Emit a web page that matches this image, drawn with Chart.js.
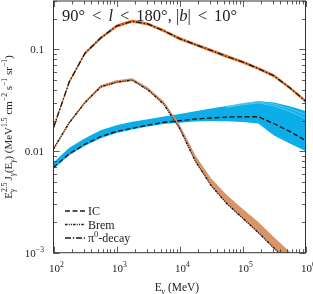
<!DOCTYPE html>
<html>
<head>
<meta charset="utf-8">
<script src="https://cdn.jsdelivr.net/npm/chart.js@4.4.1/dist/chart.umd.min.js"></script>
<style>
  html, body { margin: 0; padding: 0; background: #fff; }
  #wrap { width: 313px; height: 294px; }
</style>
</head>
<body>
<div id="wrap"><canvas id="gammaChart" width="313" height="294"></canvas></div>
<script>
// energy grid (MeV) and the curves
const energies = [100, 178, 316, 562, 1000, 1780, 3160, 5620, 1e4, 1.78e4, 3.16e4, 5.62e4, 1e5, 1.78e5, 3.16e5, 5.62e5, 1e6];

const pi0   = [0.0170, 0.0480, 0.0920, 0.1300, 0.1700, 0.1900, 0.1780, 0.1530, 0.1280, 0.1120, 0.0980, 0.0855, 0.0755, 0.0650, 0.0550, 0.0420, 0.0310];
const pi0Hi = [0.0177, 0.0497, 0.0952, 0.1345, 0.1760, 0.1970, 0.1840, 0.1580, 0.1325, 0.1160, 0.1015, 0.0885, 0.0780, 0.0673, 0.0570, 0.0435, 0.0321];
const pi0Lo = [0.0164, 0.0463, 0.0888, 0.1255, 0.1640, 0.1830, 0.1720, 0.1480, 0.1235, 0.1080, 0.0945, 0.0825, 0.0729, 0.0627, 0.0531, 0.0405, 0.0299];

const brem   = [0.0105, 0.0190, 0.0300, 0.0428, 0.0477, 0.0500, 0.0400, 0.0290, 0.0168, 0.0080, 0.0046, 0.00305, 0.00220, 0.00158, 0.00111, 0.00079, 0.00055];
const bremHi = [0.0109, 0.0197, 0.0312, 0.0447, 0.0497, 0.0522, 0.0422, 0.0310, 0.0184, 0.0091, 0.0054, 0.00370, 0.00270, 0.00200, 0.00142, 0.00102, 0.00072];
const bremLo = [0.0102, 0.0185, 0.0292, 0.0418, 0.0466, 0.0489, 0.0392, 0.0284, 0.0164, 0.0078, 0.0045, 0.00300, 0.00216, 0.00155, 0.00109, 0.00078, 0.00054];

const ic   = [0.0069, 0.0094, 0.0117, 0.0139, 0.0156, 0.0168, 0.0180, 0.0192, 0.0199, 0.0207, 0.0212, 0.0216, 0.0218, 0.0218, 0.0186, 0.0156, 0.0127];
const icHi = [0.0077, 0.0108, 0.0134, 0.0160, 0.0180, 0.0194, 0.0206, 0.0219, 0.0232, 0.0247, 0.0262, 0.0278, 0.0295, 0.0312, 0.0300, 0.0276, 0.0248];
const icLo = [0.0067, 0.0091, 0.0113, 0.0134, 0.0151, 0.0163, 0.0175, 0.0185, 0.0190, 0.0195, 0.0198, 0.0197, 0.0193, 0.0187, 0.0142, 0.0119, 0.0100];
// two of the lighter model lines visible inside the upper IC band
const icStripeA = [null, null, null, null, null, null, null, null, null, null, null, 0.0275, 0.0292, 0.0306, 0.0290, 0.0262, 0.0228];
const icStripeB = [null, null, null, null, null, null, null, null, null, null, null, 0.0270, 0.0285, 0.0298, 0.0278, 0.0247, 0.0210];

// tick labels: [value, base, exponent]
const xTickLabels = [[1e2, '10', '2'], [1e3, '10', '3'], [1e4, '10', '4'], [1e5, '10', '5'], [1e6, '10', '6']];
const yTickLabels = [[1e-3, '10', '−3'], [1e-2, '0.01', ''], [1e-1, '0.1', '']];

const legendItems = [
    { label: [{ t: 'IC' }], dash: [5, 2.5] },
    { label: [{ t: 'Brem' }], dash: [2.5, 1.2, 1, 1.2, 1, 1.2] },
    { label: [{ t: 'π' }, { t: '0', sup: 1 }, { t: '-decay' }], dash: [6, 1.8, 1.4, 1.8] }
];

const SERIF = '"Liberation Serif", "DejaVu Serif", serif';
const INK = '#222';

function pts(arr) {
    return energies.map((e, i) => ({ x: e, y: arr[i] }));
}

function setFont(ctx, size, italic) {
    ctx.font = (italic ? 'italic ' : '') + size + 'px ' + SERIF;
}

// a run: { t, it, sup } or { hi, lo } stacked scripts, or { gap } in px
function runW(ctx, r, size) {
    if (r.gap) return r.gap;
    let w = 0;
    if (r.t) {
        setFont(ctx, r.sup ? size * 0.7 : size, r.it);
        w = ctx.measureText(r.t).width;
    }
    if (r.hi) { setFont(ctx, size * 0.7, false); w = Math.max(w, ctx.measureText(r.hi).width); }
    if (r.lo) { setFont(ctx, size * 0.7, true); w = Math.max(w, ctx.measureText(r.lo).width); }
    return w;
}

function drawRuns(ctx, runs, x, y, size, align) {
    const total = runs.reduce((s, r) => s + runW(ctx, r, size), 0);
    let cx = x;
    if (align === 'center') cx = x - total / 2;
    if (align === 'right') cx = x - total;
    ctx.textAlign = 'left';
    ctx.textBaseline = 'alphabetic';
    runs.forEach(r => {
        const w = runW(ctx, r, size);
        if (r.t) {
            setFont(ctx, r.sup ? size * 0.7 : size, r.it);
            ctx.fillText(r.t, cx, r.sup ? y - 0.42 * size : y);
        }
        if (r.hi) { setFont(ctx, size * 0.7, false); ctx.fillText(r.hi, cx, y - 0.42 * size); }
        if (r.lo) { setFont(ctx, size * 0.7, true); ctx.fillText(r.lo, cx, y + 0.28 * size); }
        cx += w;
    });
}

const frameTicks = {
    id: 'frameTicks',
    afterDraw(chart) {
        const ctx = chart.ctx;
        const a = chart.chartArea;
        const xs = chart.scales.x, ys = chart.scales.y;
        ctx.save();
        ctx.strokeStyle = '#333';
        ctx.lineWidth = 0.8;
        ctx.beginPath();
        // x ticks, top and bottom, pointing inward
        for (let d = 2; d <= 6; d++) {
            for (let m = 1; m <= 9; m++) {
                const v = m * Math.pow(10, d);
                if (v > xs.max * 1.0001) continue;
                const px = Math.round(xs.getPixelForValue(v)) + 0.5;
                const len = m === 1 ? 6 : 3.5;
                ctx.moveTo(px, a.bottom); ctx.lineTo(px, a.bottom - len);
                ctx.moveTo(px, a.top); ctx.lineTo(px, a.top + len);
            }
        }
        // y ticks, left and right
        for (let d = -3; d <= -1; d++) {
            for (let m = 1; m <= 9; m++) {
                const v = m * Math.pow(10, d);
                if (v > ys.max * 1.0001) continue;
                const py = Math.round(ys.getPixelForValue(v)) + 0.5;
                const len = m === 1 ? 6 : 3.5;
                ctx.moveTo(a.left, py); ctx.lineTo(a.left + len, py);
                ctx.moveTo(a.right, py); ctx.lineTo(a.right - len, py);
            }
        }
        ctx.stroke();
        ctx.lineWidth = 1;
        ctx.strokeRect(a.left, a.top, a.right - a.left, a.bottom - a.top);

        ctx.fillStyle = INK;
        xTickLabels.forEach(([v, base, ex]) => {
            drawRuns(ctx, [{ t: base }, { t: ex, sup: 1 }], xs.getPixelForValue(v) + 3, 272, 11, 'center');
        });
        yTickLabels.forEach(([v, base, ex]) => {
            const runs = ex ? [{ t: base }, { t: ex, sup: 1 }] : [{ t: base }];
            drawRuns(ctx, runs, 44, ys.getPixelForValue(v) + 3.8, 11, 'right');
        });

        // axis titles
        drawRuns(ctx, [{ t: 'E' }, { lo: 'γ' }, { t: ' (MeV)' }], 177, 291, 11.5, 'center');
        ctx.save();
        ctx.translate(12, 127);
        ctx.rotate(-Math.PI / 2);
        drawRuns(ctx, [
            { t: 'E' }, { hi: '2.5', lo: 'γ' }, { gap: 2 }, { t: 'J' }, { lo: 'γ' }, { t: '(E' }, { lo: 'γ' },
            { t: ') (MeV' }, { t: '1.5', sup: 1 }, { t: ' cm' }, { t: '−2', sup: 1 },
            { t: ' s' }, { t: '−1', sup: 1 }, { t: ' sr' }, { t: '−1', sup: 1 }, { t: ')' }
        ], 0, 0, 11, 'center');
        ctx.restore();

        // region label
        drawRuns(ctx, [
            { t: '90°' }, { gap: 7 }, { t: '<' }, { gap: 7 }, { t: 'l', it: true }, { gap: 7 }, { t: '<' },
            { gap: 7 }, { t: '180°, |' }, { t: 'b', it: true }, { t: '|' }, { gap: 7 }, { t: '<' }, { gap: 7 }, { t: '10°' }
        ], 62, 21, 16.5, 'left');

        // legend
        legendItems.forEach((item, i) => {
            const y = 211 + i * 13.5;
            ctx.beginPath();
            ctx.setLineDash(item.dash);
            ctx.strokeStyle = '#1a1a1a';
            ctx.lineWidth = 1.4;
            ctx.moveTo(65, y); ctx.lineTo(85, y);
            ctx.stroke();
            ctx.setLineDash([]);
            drawRuns(ctx, item.label, 88, y + 4, 12, 'left');
        });
        ctx.restore();
    }
};

function band(data, color, fill, order) {
    return {
        data: pts(data), borderWidth: 0, pointRadius: 0, tension: 0,
        backgroundColor: color, fill: fill, order: order
    };
}

function curve(data, dash, order, color, width) {
    return {
        data: pts(data), borderColor: color || '#1a1a1a', borderWidth: width || 1.4, borderDash: dash,
        pointRadius: 0, tension: 0, fill: false, order: order
    };
}

const ctx = document.getElementById('gammaChart').getContext('2d');
const myChart = new Chart(ctx, {
    type: 'line',
    data: {
        datasets: [
            band(icLo, 'transparent', false, 10),
            band(icHi, '#0caeea', '-1', 10),
            curve(icStripeA, [], 9.5, '#8fd6f3', 0.6),
            curve(icStripeB, [], 9.5, '#8fd6f3', 0.6),
            band(bremLo, 'transparent', false, 9),
            band(bremHi, '#d9946a', '-1', 9),
            band(pi0Lo, 'transparent', false, 8),
            band(pi0Hi, '#ef7b30', '-1', 8),
            curve(ic, legendItems[0].dash, 1),
            curve(brem, legendItems[1].dash, 1),
            curve(pi0, legendItems[2].dash, 1)
        ]
    },
    options: {
        responsive: false,
        animation: false,
        layout: { padding: { top: 1, right: 7.5, left: 0, bottom: 0 } },
        plugins: { legend: { display: false }, tooltip: { enabled: false } },
        scales: {
            x: {
                type: 'logarithmic', min: 100, max: 1e6,
                grid: { display: false }, border: { display: false },
                ticks: { display: false },
                afterFit(s) { s.height = 41.3; }
            },
            y: {
                type: 'logarithmic', min: 0.001, max: 0.3,
                grid: { display: false }, border: { display: false },
                ticks: { display: false },
                afterFit(s) { s.width = 53.5; }
            }
        }
    },
    plugins: [frameTicks]
});
</script>
</body>
</html>
